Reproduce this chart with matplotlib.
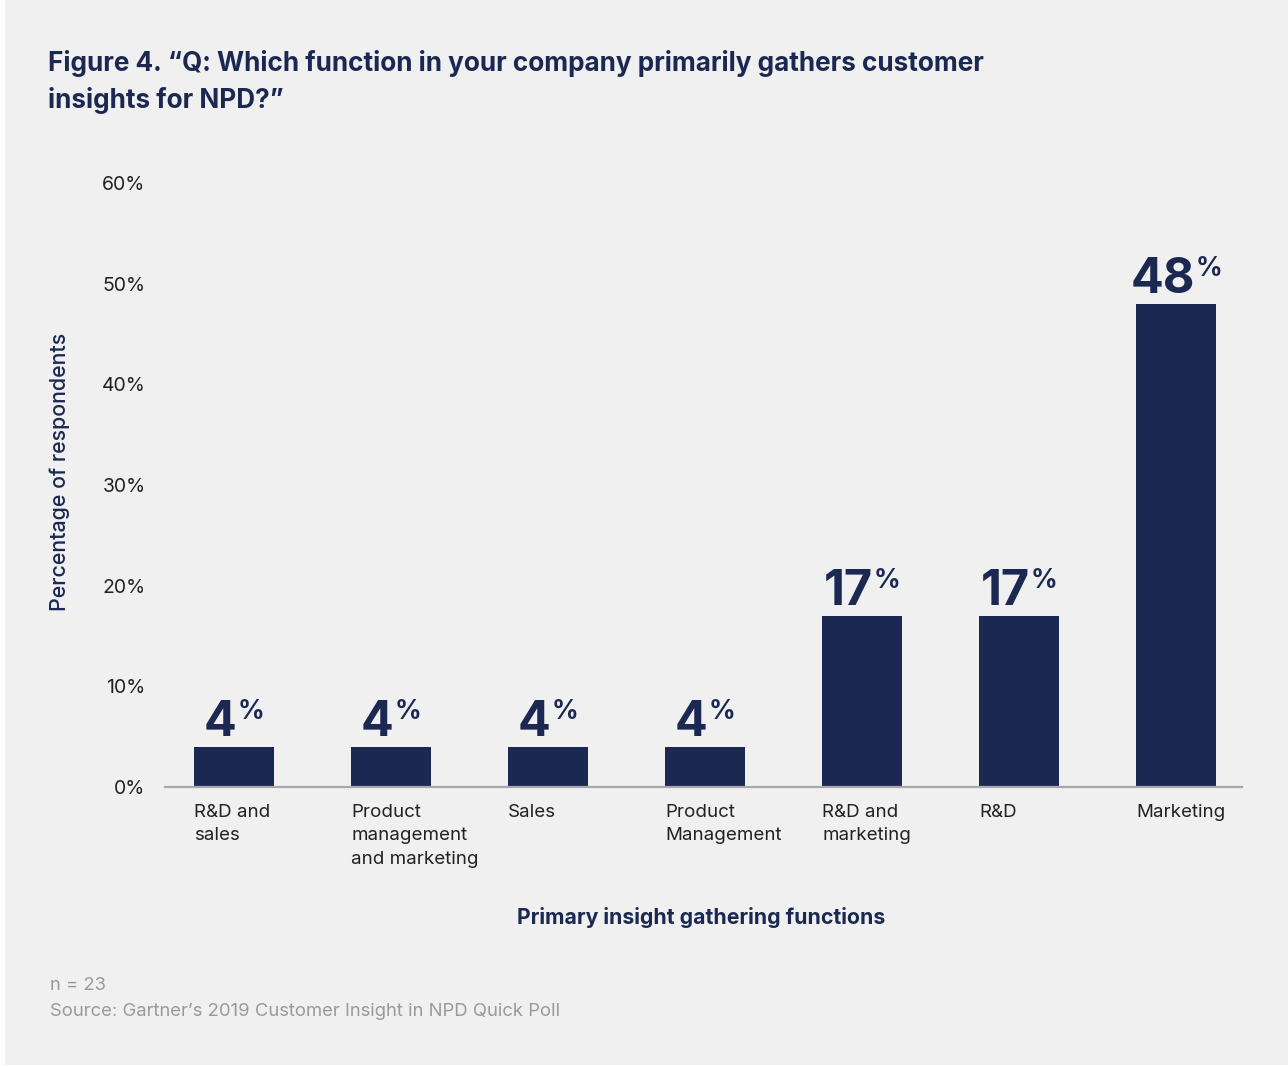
import matplotlib
matplotlib.use("Agg")
import matplotlib.pyplot as plt
from matplotlib.patches import Rectangle
import numpy as np

# survey results
functions = [
    "R&D and\nsales",
    "Product\nmanagement\nand marketing",
    "Sales",
    "Product\nManagement",
    "R&D and\nmarketing",
    "R&D",
    "Marketing",
]
shares = [4, 4, 4, 4, 17, 17, 48]
y_ticks = [0, 10, 20, 30, 40, 50, 60]

NAVY = "#1b2852"
TEXT = "#222222"
GREY = "#9a9a9e"
PANEL = "#f0f0f0"

plt.rcParams["font.family"] = ["Inter", "DejaVu Sans"]

W, H = 1288, 1067
fig = plt.figure(figsize=(W / 100, H / 100), dpi=100, facecolor="white")
fig.patches.append(Rectangle((5 / W, 2 / H), 1 - 5 / W, 1 - 2 / H,
                             transform=fig.transFigure, facecolor=PANEL,
                             edgecolor="none", zorder=-5))

ax = fig.add_axes([165 / W, 1 - 787 / H, (1242 - 165) / W, (787 - 183) / H])
ax.set_facecolor("none")

x = np.arange(len(functions))
bw = 0.51
ax.bar(x, shares, width=bw, color=NAVY, zorder=2)

ax.set_xlim(-0.44, 6.42)
ax.set_ylim(0, 60)
ax.set_yticks(y_ticks)
ax.set_yticklabels([f"{v}%" for v in y_ticks], fontsize=14, color=TEXT)
ax.set_xticks(x - bw / 2)
ax.set_xticklabels(functions, fontsize=13.5, color=TEXT, ha="left",
                   linespacing=1.5)
ax.tick_params(axis="y", length=0, pad=14)
ax.tick_params(axis="x", length=0, pad=12)
for side in ["top", "right", "left"]:
    ax.spines[side].set_visible(False)
ax.spines["bottom"].set_color("#a8a8ac")
ax.spines["bottom"].set_linewidth(1.6)

# value labels: big bold number with a small raised percent sign
renderer = fig.canvas.get_renderer()
for xi, v in zip(x, shares):
    num = ax.text(0, 0, str(v), fontsize=35, fontweight="bold", color=NAVY)
    pct = ax.text(0, 0, "%", fontsize=19, fontweight="bold", color=NAVY)
    wn = num.get_window_extent(renderer).width + 0.5
    wp = pct.get_window_extent(renderer).width
    num.remove()
    pct.remove()
    left = -(wn + wp) / 2 * 0.72
    ax.annotate(str(v), xy=(xi, v), xytext=(left, 8), textcoords="offset points",
                ha="left", va="baseline", fontsize=35, fontweight="bold",
                color=NAVY)
    ax.annotate("%", xy=(xi, v), xytext=(left + wn * 0.72, 20),
                textcoords="offset points", ha="left", va="baseline",
                fontsize=19, fontweight="bold", color=NAVY)

fig.text(48 / W, 1 - 82 / H,
         "Figure 4. \u201cQ: Which function in your company primarily gathers customer\ninsights for NPD?\u201d",
         fontsize=18.8, fontweight="bold", color=NAVY, ha="left", va="center",
         linespacing=1.45)
fig.text(701 / W, 1 - 918 / H, "Primary insight gathering functions",
         fontsize=15.3, fontweight="bold", color=NAVY, ha="center", va="center")
fig.text(60 / W, 1 - 472 / H, "Percentage of respondents", rotation=90,
         fontsize=15.4, fontweight="medium", color=NAVY, ha="center", va="center")
fig.text(50 / W, 1 - 986 / H, "n = 23", fontsize=13.3, color=GREY,
         ha="left", va="center")
fig.text(50 / W, 1 - 1011 / H,
         "Source: Gartner\u2019s 2019 Customer Insight in NPD Quick Poll",
         fontsize=13.3, color=GREY, ha="left", va="center")

fig.savefig("out.png", dpi=100, facecolor=fig.get_facecolor())
